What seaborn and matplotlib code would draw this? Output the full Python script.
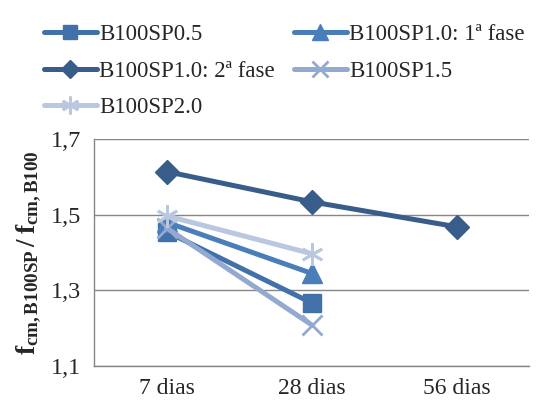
import matplotlib
matplotlib.use("Agg")
import matplotlib.pyplot as plt
import seaborn as sns
import pandas as pd
from matplotlib.ticker import FixedLocator

sns.set_theme(style="white")
plt.rcParams["font.family"] = ["Liberation Serif", "DejaVu Serif"]
plt.rcParams["mathtext.fontset"] = "custom"
plt.rcParams["mathtext.rm"] = "Liberation Serif"
plt.rcParams["mathtext.it"] = "Liberation Serif:italic"
plt.rcParams["mathtext.bf"] = "Liberation Serif:bold"

# Ages of testing
ages = ["7 dias", "28 dias", "56 dias"]

# Strength ratio f_cm,B100SP / f_cm,B100 per mix
sp05 = [1.455, 1.267]
sp10_f1 = [1.480, 1.345]
sp10_f2 = [1.614, 1.534, 1.468]
sp15 = [1.465, 1.209]
sp20 = [1.497, 1.397]

series = [
    ("B100SP0.5", sp05, "#4271AA", "s", 13),
    ("B100SP1.0: 1ª fase", sp10_f1, "#4A7EBB", "^", 14),
    ("B100SP1.0: 2ª fase", sp10_f2, "#385D8A", "D", 12),
    ("B100SP1.5", sp15, "#93A9CF", "x", 14),
    ("B100SP2.0", sp20, "#B9C7E0", (6, 2, 0), 16),
]

rows = []
for name, vals, *_ in series:
    for age, v in zip(ages, vals):
        rows.append({"serie": name, "idade": age, "razao": v})
df = pd.DataFrame(rows)
df["pos"] = df["idade"].map({a: i for i, a in enumerate(ages)})

fig = plt.figure(figsize=(5.57, 4.03), dpi=100)
ax = fig.add_axes([94 / 557, 37 / 403, 435 / 557, 227 / 403])

handles = {}
for name, vals, color, marker, ms in series:
    sub = df[df["serie"] == name]
    sns.lineplot(data=sub, x="pos", y="razao", ax=ax, color=color,
                 marker=marker, markersize=ms, linewidth=3.6,
                 markeredgecolor=color,
                 markeredgewidth=2 if marker in ("x", (6, 2, 0)) else 1,
                 label=name, legend=False)
    handles[name] = ax.lines[-1]

ax.set_xlim(-0.5, 2.5)
ax.set_ylim(1.1, 1.7)
ax.set_yticks([1.1, 1.3, 1.5, 1.7])
ax.set_yticklabels(["1,1", "1,3", "1,5", "1,7"], fontsize=17.5)
ax.set_xticks(range(len(ages)))
ax.set_xticklabels(ages, fontsize=17)
ax.xaxis.set_minor_locator(FixedLocator([-0.5, 0.5, 1.5, 2.5]))
ax.tick_params(axis="x", which="major", length=0, pad=9)
ax.tick_params(axis="x", which="minor", length=5, color="#868686", width=1, direction="out")
ax.tick_params(axis="y", which="major", length=5, color="#868686", width=1, direction="out", pad=4)
ax.set_xlabel("")
ax.set_ylabel(r"$\mathbf{f_{cm,B100SP}\,/\;f_{cm,B100}}$", fontsize=19.5, labelpad=6)

ax.grid(axis="y", color="#868686", linewidth=1)
ax.grid(axis="x", visible=False)
for side in ("top", "right"):
    ax.spines[side].set_visible(False)
for side in ("left", "bottom"):
    ax.spines[side].set_color("#868686")
    ax.spines[side].set_linewidth(1)

order = ["B100SP0.5", "B100SP1.0: 2ª fase", "B100SP2.0",
         "B100SP1.0: 1ª fase", "B100SP1.5"]
leg = fig.legend([handles[n] for n in order], order, ncol=2, frameon=False,
                 loc="upper left", bbox_to_anchor=(44 / 557, 1 - 24 / 403),
                 fontsize=16.5, handlelength=2.3, handletextpad=0.1,
                 columnspacing=0.85, labelspacing=0.68, borderaxespad=0,
                 borderpad=0, markerscale=0.8)

fig.savefig("out.png", dpi=100)
